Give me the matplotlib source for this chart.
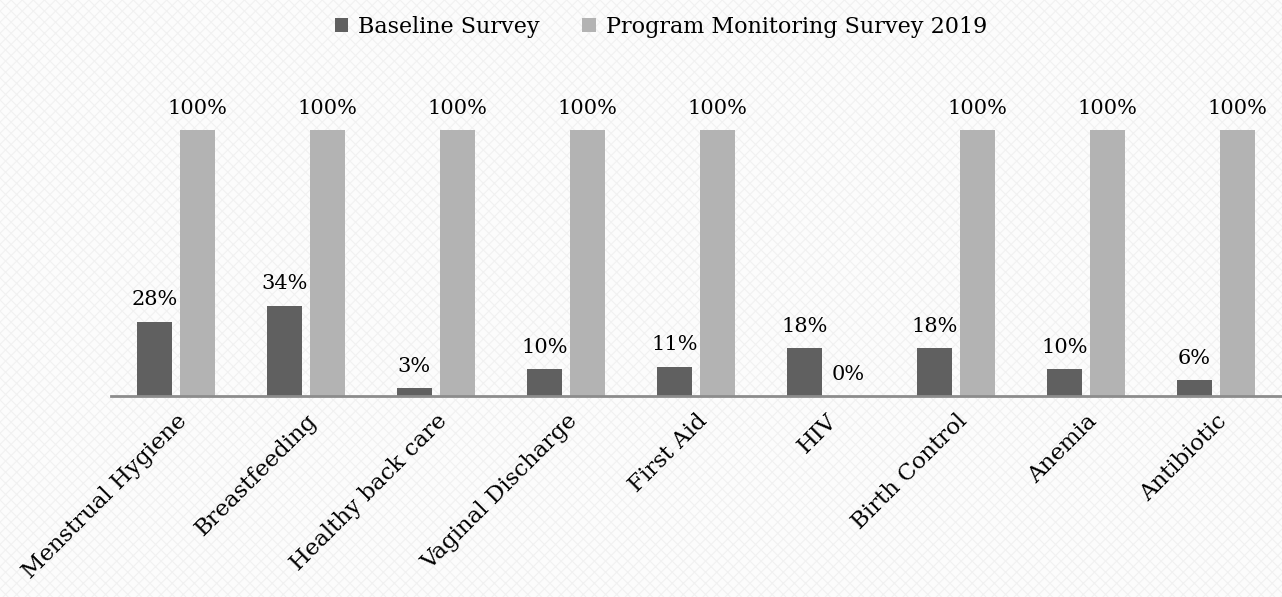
import matplotlib
matplotlib.use("Agg")
import matplotlib.pyplot as plt
import numpy as np
from matplotlib.patches import Rectangle

categories = ["Menstrual Hygiene", "Breastfeeding", "Healthy back care", "Vaginal Discharge",
              "First Aid", "HIV", "Birth Control", "Anemia", "Antibiotic"]
baseline = [28, 34, 3, 10, 11, 18, 18, 10, 6]
monitoring = [100, 100, 100, 100, 100, 0, 100, 100, 100]
series_names = ["Baseline Survey", "Program Monitoring Survey 2019"]

plt.rcParams['font.family'] = ['DejaVu Serif']
plt.rcParams['hatch.linewidth'] = 0.8

W, H = 1282, 597
fig = plt.figure(figsize=(W/100, H/100), dpi=100)
fig.patch.set_facecolor('#fcfcfc')
bg = Rectangle((0, 0), 1, 1, transform=fig.transFigure, facecolor='none',
               edgecolor='#f1f1f1', hatch='xxx', linewidth=0, zorder=-10)
fig.add_artist(bg)

ax = fig.add_axes([111/W, 1-396/H, (1281-111)/W, (396-77)/H])
ax.set_facecolor('none')
x = np.arange(len(categories))
off = 0.167
w = 0.27
dark = '#606060'
light = '#b3b3b3'
b1 = ax.bar(x - off, baseline, w, color=dark, label=series_names[0])
b2 = ax.bar(x + off, monitoring, w, color=light, label=series_names[1])
for xi, v in zip(x, baseline):
    ax.annotate(f"{v}%", (xi - off, v), xytext=(0, 9), textcoords='offset points',
                ha='center', va='bottom', fontsize=15)
for xi, v in zip(x, monitoring):
    ax.annotate(f"{v}%", (xi + off, v), xytext=(0, 9), textcoords='offset points',
                ha='center', va='bottom', fontsize=15)

ax.set_xlim(-0.5, len(categories) - 0.5)
ax.set_ylim(0, 120)
for s in ['top', 'right', 'left']:
    ax.spines[s].set_visible(False)
ax.spines['bottom'].set_color('#8c8c8c')
ax.spines['bottom'].set_linewidth(2)
ax.set_yticks([])
ax.set_xticks(x)
ax.set_xticklabels(categories, rotation=45, ha='right', rotation_mode='anchor', fontsize=16.5)
ax.tick_params(axis='x', length=0, pad=10)

fig.legend(handles=[b1, b2], labels=series_names, loc='center', bbox_to_anchor=(661/W, 1-27/H),
           ncol=2, frameon=False, fontsize=16, handlelength=0.6, handleheight=0.6,
           columnspacing=1.9, handletextpad=0.45)

fig.savefig("out.png", dpi=100, facecolor=fig.get_facecolor())
